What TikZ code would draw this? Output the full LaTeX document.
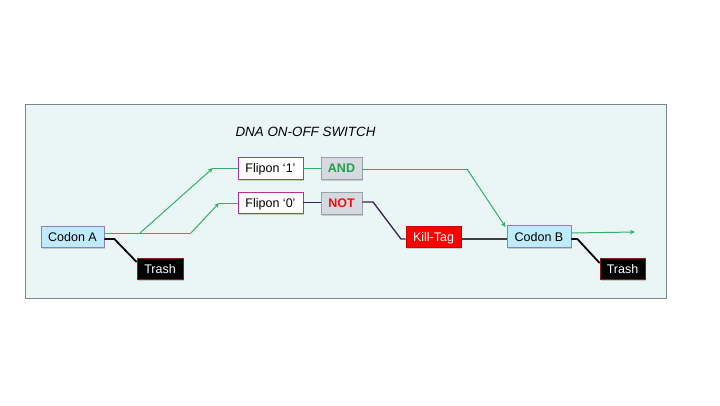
\documentclass[tikz,border=0pt]{standalone}
\usepackage{fontspec}
\setmainfont{Liberation Sans}
\usetikzlibrary{arrows.meta,calc,shadows}
\definecolor{panelfill}{HTML}{EAF6F6}
\definecolor{panelline}{HTML}{7F8790}
\definecolor{codonfill}{HTML}{BDEBFB}
\definecolor{codonline}{HTML}{9A78C4}
\definecolor{fliponline}{HTML}{B5319E}
\definecolor{gatefill}{HTML}{D6D9DF}
\definecolor{gateline}{HTML}{9AA0A8}
\definecolor{andgreen}{HTML}{1FA04B}
\definecolor{linegreen}{HTML}{34AE68}
\definecolor{notred}{HTML}{F01010}
\definecolor{darkpurple}{HTML}{3B2150}
\definecolor{trashline}{HTML}{8B1A1A}
\begin{document}
\begin{tikzpicture}[x=1pt,y=-1pt,
  box/.style={draw, line width=0.8pt, inner sep=0pt, minimum height=21pt,
    text height=9pt, text depth=0pt,
    font=\fontsize{12.5}{14}\selectfont, drop shadow={shadow xshift=1.2pt, shadow yshift=-1.5pt, opacity=0.35}},
  codon/.style={box, fill=codonfill, draw=codonline},
  flipon/.style={box, fill=white, draw=fliponline},
  gate/.style={box, fill=gatefill, draw=gateline, font=\fontsize{12.5}{14}\selectfont\bfseries},
  trash/.style={box, fill=black, draw=trashline, text=white},
  killtag/.style={box, fill=red, draw=red!80!black, text=white},
  gline/.style={draw=linegreen, line width=1pt},
  garrow/.style={gline, -{Stealth[length=5pt,width=4.5pt]}},
  pline/.style={draw=darkpurple, line width=1.3pt},
  bline/.style={draw=black, line width=1.8pt},
]
\useasboundingbox (0,0) rectangle (720,405);
\fill[white] (0,0) rectangle (720,405);
\draw[fill=panelfill, draw=panelline, line width=1pt] (25,104.5) rectangle (666,298.5);
\node[font=\fontsize{13.4}{15}\selectfont\itshape, anchor=west] (title) at (232,132) {DNA ON-OFF SWITCH};

\node[codon, minimum width=63pt] (ca) at (72.5,236.5) {Codon A};
\node[trash, minimum width=46pt] (ta) at (160,268.5) {Trash};
\node[flipon, minimum width=65pt, minimum height=22pt] (f1) at (270.5,168) {Flipon ‘1’};
\node[flipon, minimum width=65pt] (f0) at (270.5,202.5) {Flipon ‘0’};
\node[gate, minimum width=41pt, minimum height=22pt, text=andgreen] (and) at (341.5,168) {AND};
\node[gate, minimum width=41pt, minimum height=22pt, text=notred] (not) at (341.5,203) {NOT};
\node[killtag, minimum width=55pt] (kt) at (433.5,236.5) {Kill-Tag};
\node[codon, minimum width=64pt, minimum height=22pt] (cb) at (539,236.5) {Codon B};
\node[trash, minimum width=45pt] (tb) at (622.5,268.5) {Trash};

\coordinate (s0) at (140,233);
\coordinate (k0) at (191,233);
\coordinate (a0) at (219,203);
\coordinate (a1) at (213,168);
\coordinate (r1) at (467,169);
\coordinate (n1) at (373,202);
\coordinate (n2) at (401,239);
\coordinate (out) at (635,232);

% Codon A to trash
\draw[bline] ($(ca.east)+(0,2.5)$) -- ++(10,0) -- ($(ta.west)+(0,-6.5)$);
% green paths from codon A
\draw[gline] ($(ca.east)+(0,-3.5)$) -- (k0);
\draw[garrow] (k0) -- (a0);
\draw[gline] (a0) -- (f0.west |- a0);
\draw[garrow] (s0) -- (a1);
\draw[gline] (a1) -- (f1.west);
% flipon to gates
\draw[gline] (f1.east) -- (and.west);
\draw[pline] (f0.east) -- (not.west |- f0.east);
% AND to codon B
\draw[gline] (and.east |- r1) -- (r1);
\draw[garrow] (r1) -- ($(cb.north west)+(-1,2)$);
% NOT to kill-tag
\draw[pline] (not.east |- n1) -- (n1) -- (n2) -- (kt.west |- n2);
% kill-tag to codon B
\draw[draw=black!75, line width=1.1pt] ($(kt.east)+(0,2.5)$) -- ($(cb.west)+(0,2.5)$);
% codon B out
\draw[garrow] ($(cb.east)+(0,-3.5)$) -- (out);
\draw[bline] ($(cb.east)+(0,2.5)$) -- ++(6,0) -- ($(tb.west)+(0,-5.5)$);
\end{tikzpicture}
\end{document}
